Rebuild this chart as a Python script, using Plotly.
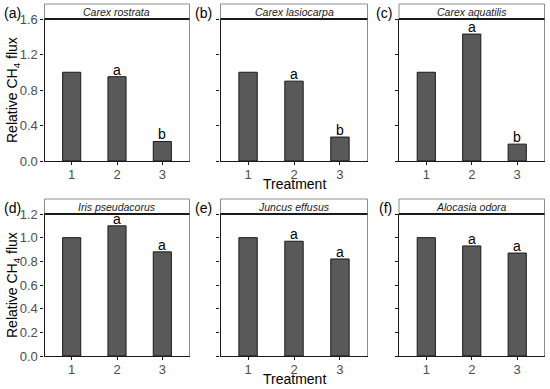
import plotly.graph_objects as go

treatments = [1, 2, 3]
tick_labels = ["1", "2", "3"]
species = ["Carex rostrata", "Carex lasiocarpa", "Carex aquatilis",
           "Iris pseudacorus", "Juncus effusus", "Alocasia odora"]
panel_tags = ["(a)", "(b)", "(c)", "(d)", "(e)", "(f)"]
carex_rostrata = [1.00, 0.95, 0.22]
carex_lasiocarpa = [1.00, 0.90, 0.27]
carex_aquatilis = [1.00, 1.43, 0.19]
iris_pseudacorus = [1.00, 1.10, 0.88]
juncus_effusus = [1.00, 0.97, 0.82]
alocasia_odora = [1.00, 0.93, 0.87]
values = [carex_rostrata, carex_lasiocarpa, carex_aquatilis,
          iris_pseudacorus, juncus_effusus, alocasia_odora]
letters = [["", "a", "b"], ["", "a", "b"], ["", "a", "b"],
           ["", "a", "a"], ["", "a", "a"], ["", "a", "a"]]
top_ticks = [0, 0.4, 0.8, 1.2, 1.6]
bottom_ticks = [0, 0.2, 0.4, 0.6, 0.8, 1.0, 1.2]

W, H = 550, 389
FONT = "Liberation Sans, Arial, sans-serif"

col_px = [(44.5, 189.5), (220.5, 367.5), (399, 544.5)]
row_px = [(19, 161, 4), (214, 356, 199)]  # plot top, plot bottom, strip top

fig = go.Figure()
shapes = []
annotations = []

for i in range(6):
    r, c = divmod(i, 3)
    x0p, x1p = col_px[c]
    ytop, ybot, stop = row_px[r]
    xd = [x0p / W, x1p / W]
    yd = [(H - ybot) / H, (H - ytop) / H]
    n = i + 1
    xa = "xaxis" if n == 1 else f"xaxis{n}"
    ya = "yaxis" if n == 1 else f"yaxis{n}"
    xr = "x" if n == 1 else f"x{n}"
    yr = "y" if n == 1 else f"y{n}"

    fig.add_trace(go.Bar(
        x=treatments, y=values[i], xaxis=xr, yaxis=yr, width=0.4,
        marker=dict(color="#595959", line=dict(color="#1a1a1a", width=1)),
        showlegend=False, hoverinfo="skip"))

    ticks = top_ticks if r == 0 else bottom_ticks
    yrange = [0, 1.6] if r == 0 else [0, 1.2]
    fig.layout[xa] = dict(
        domain=xd, anchor=yr, range=[0.4, 3.6], tickvals=treatments,
        ticktext=tick_labels, ticks="outside", ticklen=3, tickwidth=1,
        tickcolor="#1a1a1a", showline=True, linecolor="#1a1a1a",
        linewidth=1.3, showgrid=False, zeroline=False, automargin=False,
        ticklabelstandoff=-2,
        tickfont=dict(family=FONT, size=13, color="#4d4d4d"))
    fig.layout[ya] = dict(
        domain=yd, anchor=xr, range=yrange, tickvals=ticks,
        tickformat=".1f", ticks="outside", ticklen=3, tickwidth=1,
        tickcolor="#1a1a1a", showline=True, linecolor="#1a1a1a",
        linewidth=1.3, showgrid=False, zeroline=False, automargin=False,
        showticklabels=(c == 0),
        tickfont=dict(family=FONT, size=13, color="#4d4d4d"))

    if c == 1:
        annotations.append(dict(
            text="Treatment", xref="paper", yref="paper",
            x=(xd[0] + xd[1]) / 2, y=(H - (ybot + 23)) / H,
            showarrow=False, xanchor="center", yanchor="middle",
            font=dict(family=FONT, size=14, color="black")))
    if c == 0:
        annotations.append(dict(
            text="Relative CH<sub>4</sub> flux", xref="paper", yref="paper",
            x=13 / W, y=(yd[0] + yd[1]) / 2, textangle=-90,
            showarrow=False, xanchor="center", yanchor="middle",
            font=dict(family=FONT, size=14, color="black")))

    # right panel border
    shapes.append(dict(type="line", xref="paper", yref="paper",
                       x0=xd[1], x1=xd[1], y0=yd[0], y1=yd[1],
                       line=dict(color="#8c8c8c", width=1)))
    # strip box
    shapes.append(dict(type="rect", xref="paper", yref="paper",
                       x0=xd[0], x1=xd[1], y0=yd[1], y1=(H - stop) / H,
                       fillcolor="white",
                       line=dict(color="#8c8c8c", width=1)))
    shapes.append(dict(type="line", xref="paper", yref="paper",
                       x0=xd[0], x1=xd[1], y0=yd[1], y1=yd[1],
                       line=dict(color="#1a1a1a", width=2)))
    annotations.append(dict(
        text=f"<i>{species[i]}</i>", xref="paper", yref="paper",
        x=(xd[0] + xd[1]) / 2, y=(H - (stop + ytop) / 2) / H,
        showarrow=False, xanchor="center", yanchor="middle",
        font=dict(family=FONT, size=10.5, color="#1a1a1a")))
    # panel tag
    tag_x = [23, 214, 394][c]
    annotations.append(dict(
        text=panel_tags[i], xref="paper", yref="paper",
        x=tag_x / W, y=(H - (stop + 9)) / H, showarrow=False,
        xanchor="right", yanchor="middle",
        font=dict(family=FONT, size=14, color="black")))
    # significance letters
    for t, v, lab in zip(treatments, values[i], letters[i]):
        if lab:
            annotations.append(dict(
                text=lab, xref=xr, yref=yr, x=t, y=v, showarrow=False,
                xanchor="center", yanchor="bottom", yshift=-3,
                font=dict(family=FONT, size=14, color="black")))

fig.update_layout(
    width=W, height=H, margin=dict(l=0, r=0, t=0, b=0),
    paper_bgcolor="white", plot_bgcolor="white",
    shapes=shapes, annotations=annotations,
    font=dict(family=FONT))

fig.write_html("out.html",
               config={"displayModeBar": False},
               post_script="document.body.style.margin='0';"
                           "document.body.style.overflow='hidden';")
